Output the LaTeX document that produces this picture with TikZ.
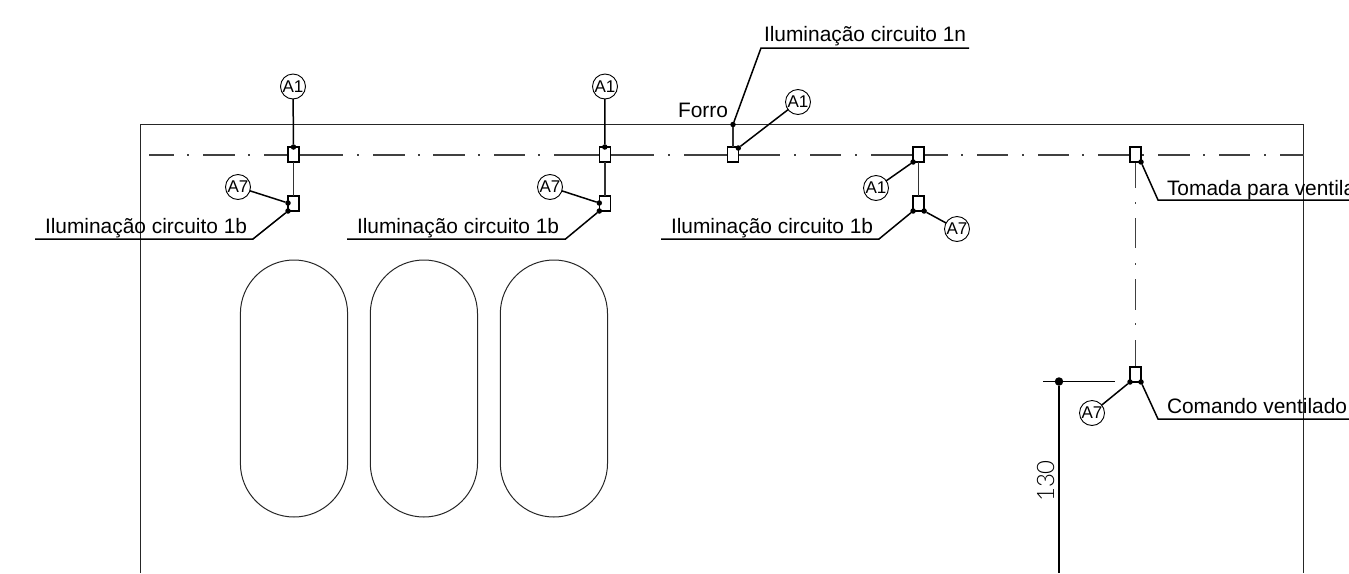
\documentclass[tikz,border=0pt]{standalone}
\usepackage{fontspec}
\setmainfont{Liberation Sans}
\newfontfamily\dimfont{Lato Light}
\tikzset{
  x=1pt,y=-1pt,
  wall/.style={draw=black!85,line width=0.9pt},
  center line/.style={draw=black!75,line width=1.4pt},
  link/.style={draw=black!80,line width=1.4pt},
  leader/.style={draw=black,line width=1.5pt},
  boxn/.style={draw=black,fill=white,line width=1.5pt,rectangle,minimum width=11pt,minimum height=15pt,inner sep=0pt,outer sep=0pt},
  tag/.style={draw=black,fill=white,line width=0.9pt,circle,minimum size=25pt,inner sep=0pt,outer sep=0pt,font=\fontsize{17}{18}\selectfont},
  label/.style={anchor=base west,inner sep=0pt,outer sep=0pt,font=\fontsize{20.9}{24}\selectfont},
  dotn/.style={circle,fill=black,minimum size=5.5pt,inner sep=0pt,outer sep=0pt},
  bigdot/.style={circle,fill=black,minimum size=8.5pt,inner sep=0pt,outer sep=0pt},
  stadium/.style={draw=black!85,line width=1pt}
}
\begin{document}
\begin{tikzpicture}
\useasboundingbox (0,0) rectangle (1349,573);
\clip (0,0) rectangle (1349,573);
% room
\draw[wall] (140.5,573) -- (140.5,124.5) -- (1303.7,124.5) -- (1303.7,573);
% luminaires
\foreach \c in {294,423.9,553.9}{
  \draw[stadium] (\c-53.6,313.6) arc[start angle=180,end angle=360,radius=53.6] -- (\c+53.6,463.4) arc[start angle=0,end angle=180,radius=53.6] -- cycle;
}
% conduit centre lines
\foreach \a/\b in {149/174,203/235,264/343,373/405,433/465,494/525,554/654,684/780,810/841,871/948,977/1008,1038/1069,1098/1135,1158/1190,1219/1250,1280/1304}{
  \draw[center line] (\a,155) -- (\b,155);
}
\foreach \a in {188,249,358,419,479,539,669,795,856,962,1023,1083,1143,1204,1265}{
  \draw[center line] (\a-0.8,155) -- (\a+0.8,155);
}
\foreach \a/\b in {162/188,218/248,279/310,340/367}{
  \draw[center line] (1135.5,\a) -- (1135.5,\b);
}
\foreach \a in {203,264,324}{
  \draw[center line] (1135.5,\a-0.8) -- (1135.5,\a+0.8);
}
% boxes
\node[boxn] (b1t) at (293.5,154.5) {};
\node[boxn] (b1b) at (293.5,203.5) {};
\node[boxn] (b2t) at (604.8,154.5) {};
\node[boxn] (b2b) at (604.8,203.5) {};
\node[boxn] (b3) at (733,154.5) {};
\node[boxn] (b4t) at (918.6,154.5) {};
\node[boxn] (b4b) at (918.6,203.5) {};
\node[boxn] (b5) at (1135.5,154.5) {};
\node[boxn] (b6) at (1135.5,374.5) {};
% tags
\node[tag] (a1) at (293,86.5) {A1};
\node[tag] (a2) at (238,187) {A7};
\node[tag] (a3) at (605,86.5) {A1};
\node[tag] (a4) at (550,187) {A7};
\node[tag] (a5) at (798,102) {A1};
\node[tag] (a6) at (876,188) {A1};
\node[tag] (a7) at (957,229) {A7};
\node[tag] (a8) at (1092,413) {A7};
% dots
\node[dotn] (d1) at (b1t.north) {};
\node[dotn] (d2) at (288,203) {};
\node[dotn] (d3) at (b1b.south west) {};
\node[dotn] (d4) at (b2t.north) {};
\node[dotn] (d5) at (599.3,203) {};
\node[dotn] (d6) at (b2b.south west) {};
\node[dotn] (d7) at (733,124.5) {};
\node[dotn] (d8) at (738.3,148) {};
\node[dotn] (d9) at (b4t.south west) {};
\node[dotn] (d10) at (b4b.south west) {};
\node[dotn] (d11) at (b4b.south east) {};
\node[dotn] (d12) at (b5.south east) {};
\node[dotn] (d13) at (b6.south west) {};
\node[dotn] (d14) at (b6.south east) {};
% links between boxes
\draw[link] (b1t) -- (b1b);
\draw[link] (b2t) -- (b2b);
\draw[link] (b4t.south) -- (b4b.north);
\draw[link] (d7) -- (b3.north);
% tag leaders
\draw[leader] (a1) -- (d1);
\draw[leader] (a2) -- (d2);
\draw[leader] (a3) -- (d4);
\draw[leader] (a4) -- (d5);
\draw[leader] (a5) -- (d8);
\draw[leader] (a6) -- (d9);
\draw[leader] (a7) -- (d11);
\draw[leader] (a8) -- (d13);
% text leaders
\coordinate (e1) at (35,239);
\coordinate (e2) at (347,239);
\coordinate (e3) at (661,239);
\coordinate (e4) at (969,48);
\coordinate (e5) at (1349,200);
\coordinate (e6) at (1349,419);
\draw[leader] (d3) -- (253,239) -- (e1);
\draw[leader] (d6) -- (565.5,239) -- (e2);
\draw[leader] (d10) -- (879,239) -- (e3);
\draw[leader] (d7) -- (761,48) -- (e4);
\draw[leader] (d12) -- (1158,200) -- (e5);
\draw[leader] (d14) -- (1158,419) -- (e6);
% labels
\node[label] (t1) at (45,233) {Iluminação circuito 1b};
\node[label] (t2) at (357,233) {Iluminação circuito 1b};
\node[label] (t3) at (671,233) {Iluminação circuito 1b};
\node[label] (t4) at (764,41) {Iluminação circuito 1n};
\node[label] (t5) at (678,117) {Forro};
\node[label] (t6) at (1167,195) {Tomada para ventila};
\node[label] (t7) at (1167,413) {Comando ventilado};
% dimension
\coordinate (h1) at (1043,381.5);
\coordinate (h2) at (1115,381.5);
\coordinate (v1) at (1059,573);
\node[bigdot] (dd) at (1059,381.5) {};
\draw[leader] (h1) -- (h2);
\draw[leader] (dd) -- (v1);
\node[rotate=90,inner sep=0pt,font=\dimfont\fontsize{24}{26}\selectfont] (t8) at (1045.5,481) {130};
\end{tikzpicture}
\end{document}
